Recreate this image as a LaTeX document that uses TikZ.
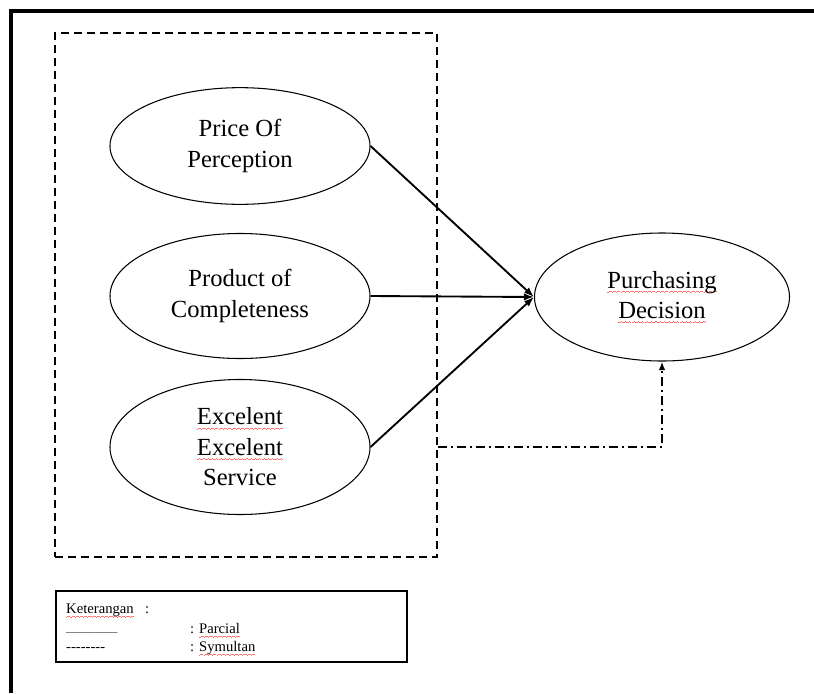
\documentclass[tikz,border=0pt]{standalone}
\usepackage{fontspec}
\setmainfont{Liberation Serif}
\usetikzlibrary{shapes.geometric,arrows.meta}

% red spell-check squiggle under a word
\newcommand{\wavebit}{\hbox{\rule[-3.9pt]{0.9pt}{0.5pt}\rule[-3.3pt]{0.9pt}{0.5pt}\rule[-2.7pt]{0.9pt}{0.5pt}\rule[-3.3pt]{0.9pt}{0.5pt}}}
\newcommand{\typo}[1]{\leavevmode\setbox0\hbox{#1}\rlap{\color{red!55}\hbox to \wd0{\xleaders\wavebit\hfil}}\box0}

\tikzset{
  var/.style={draw, ellipse, inner sep=0pt, line width=0.9pt, align=center,
    font=\fontsize{21}{26}\selectfont},
  path/.style={-{Latex[length=3mm,width=2.2mm]}, line width=1.6pt},
  sim/.style={-{Latex[length=2.6mm,width=2mm]}, line width=1.6pt, dash pattern=on 0.27cm off 0.12cm on 0.06cm off 0.12cm},
  legend/.style={anchor=base west, inner sep=0pt, font=\fontsize{12.5}{15}\selectfont}
}

\begin{document}
\begin{tikzpicture}[x=0.03cm, y=-0.03cm]

\useasboundingbox (0,0) rectangle (814,693);

% frame
\draw[line width=3pt] (11,693) -- (11,11) -- (814,11);

% variables
\node[draw, line width=1.5pt, dash pattern=on 0.24cm off 0.15cm,
  minimum width=11.46cm, minimum height=15.72cm] (grp) at (246,295) {};

\node[var, minimum width=7.8cm, minimum height=3.5cm] (price) at (240,146) {Price Of\\ Perception};
\node[var, minimum width=7.8cm, minimum height=3.75cm] (product) at (240,296) {Product of\\ Completeness};
\node[var, minimum width=7.8cm, minimum height=4.05cm] (service) at (240,447) {\typo{Excelent}\\ \typo{Excelent}\\ Service};

\node[var, minimum width=7.65cm, minimum height=3.84cm] (decision) at (662,297) {\typo{Purchasing}\\ \typo{Decision}};

% paths
\draw[path] (price.east) -- (decision.west);
\draw[path] (product.east) -- (decision.west);
\draw[path] (service.east) -- (decision.west);
\draw[sim] (grp.east |- service.east) -| (decision.south);

% legend
\node[draw, line width=1pt, minimum width=10.53cm, minimum height=2.13cm] (legbox) at (231.5,626.5) {};
\node[legend] (ket) at (66,613) {\typo{Keterangan}};
\node[legend] (ketcolon) at (145,613) {:};
\node[legend, text=black!65] (solid) at (66,631) {\_\_\_\_\_\_\_};
\node[legend] (parcial) at (190,633) {: \typo{Parcial}};
\node[legend] (dash) at (66,651) {-{}-{}-{}-{}-{}-{}-{}-};
\node[legend] (symultan) at (190,651) {: \typo{Symultan}};

\end{tikzpicture}
\end{document}
